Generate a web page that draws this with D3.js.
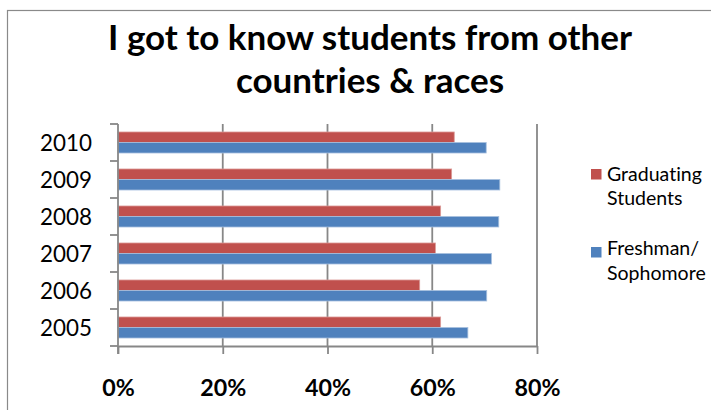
<!DOCTYPE html>
<html>
<head>
<meta charset="utf-8">
<script src="https://cdn.jsdelivr.net/npm/d3@7"></script>
<style>
  html, body { margin: 0; padding: 0; background: #fff; }
  svg { display: block; }
  text { font-family: Lato, "Open Sans", sans-serif; fill: #000; font-variant-ligatures: none; font-feature-settings: "liga" 0; }
</style>
</head>
<body>
<svg id="chart" width="711" height="410"></svg>
<script>
// Survey results: share of students who got to know students from other countries & races
const years = ["2010", "2009", "2008", "2007", "2006", "2005"];
const graduating = [0.642, 0.637, 0.616, 0.606, 0.576, 0.616];
const freshman = [0.703, 0.729, 0.727, 0.713, 0.704, 0.668];
const seriesNames = ["Graduating Students", "Freshman/ Sophomore"];
const seriesColors = ["#C0504D", "#4F81BD"];
const seriesEdges = ["#DA9A98", "#A7C0DE"];
const xTicks = [0, 0.2, 0.4, 0.6, 0.8];
const titleLines = ["I got to know students from other", "countries & races"];

const svg = d3.select("#chart");
const W = 711, H = 410;

// fit a text element's font size so its rendered width matches a target width
function fitWidth(sel, target, base) {
  sel.style("font-size", base + "px");
  const w = sel.node().getComputedTextLength();
  sel.style("font-size", (base * target / w) + "px");
}

// chart frame
svg.append("rect")
  .attr("x", 7.5).attr("y", 10.5)
  .attr("width", W + 20).attr("height", H + 20)
  .attr("fill", "#fff").attr("stroke", "#8a8a8a").attr("stroke-width", 1.2);

const plot = { left: 118, right: 537, top: 124, bottom: 346 };

const x = d3.scaleLinear().domain([0, 0.8]).range([plot.left, plot.right]);
const y = d3.scaleBand().domain(years).range([plot.top, plot.bottom])
  .paddingInner(0.432).paddingOuter(0.216);
const ySub = d3.scaleBand().domain([0, 1]).range([0, y.bandwidth()]);

const axisColor = "#878787";

// vertical gridlines
svg.append("g")
  .selectAll("line")
  .data(xTicks.filter(d => d > 0))
  .join("line")
  .attr("x1", d => x(d)).attr("x2", d => x(d))
  .attr("y1", plot.top).attr("y2", plot.bottom)
  .attr("stroke", axisColor).attr("stroke-width", 1.8);

// bars
const rows = years.map((yr, i) => ({ yr, vals: [graduating[i], freshman[i]] }));
const groups = svg.append("g").selectAll("g")
  .data(rows).join("g")
  .attr("transform", d => `translate(0,${y(d.yr)})`);
groups.selectAll("rect")
  .data(d => d.vals.map((v, s) => ({ v, s })))
  .join("rect")
  .attr("x", x(0))
  .attr("y", d => ySub(d.s))
  .attr("width", d => x(d.v) - x(0))
  .attr("height", ySub.bandwidth())
  .attr("fill", d => seriesColors[d.s])
  .attr("stroke", d => seriesEdges[d.s])
  .attr("stroke-width", 0.8);

// x axis
const xAxis = svg.append("g")
  .attr("transform", `translate(0,${plot.bottom})`)
  .call(d3.axisBottom(x).tickValues(xTicks).tickFormat(d3.format(".0%"))
    .tickSize(8).tickSizeOuter(0));
xAxis.select(".domain").attr("stroke", axisColor).attr("stroke-width", 1.8);
xAxis.selectAll(".tick line").attr("stroke", axisColor).attr("stroke-width", 1.8);
xAxis.selectAll(".tick text")
  .attr("y", 0).attr("dy", null)
  .attr("transform", "translate(0,50)")
  .style("font-family", "Lato, sans-serif")
  .style("font-weight", "bold")
  .attr("fill", "#000");
const xLabelSize = (() => {
  const t = xAxis.selectAll(".tick text").filter(d => d === 0.8);
  fitWidth(t, 46, 26);
  return parseFloat(t.style("font-size"));
})();
xAxis.selectAll(".tick text").style("font-size", xLabelSize + "px");

// y axis: category boundaries as ticks
const step = y.step();
const gap = (step - y.bandwidth()) / 2;
const bounds = years.map(yr => y(yr) - gap).concat([plot.bottom]);
const yAxis = svg.append("g");
yAxis.append("line")
  .attr("x1", plot.left).attr("x2", plot.left)
  .attr("y1", plot.top).attr("y2", plot.bottom + 8)
  .attr("stroke", axisColor).attr("stroke-width", 1.8);
yAxis.selectAll("line.tick")
  .data(bounds).join("line").attr("class", "tick")
  .attr("x1", plot.left - 8).attr("x2", plot.left)
  .attr("y1", d => d).attr("y2", d => d)
  .attr("stroke", axisColor).attr("stroke-width", 1.8);
const yLabels = yAxis.selectAll("text")
  .data(years).join("text")
  .attr("x", 92)
  .attr("y", d => y(d) + y.bandwidth() / 2)
  .attr("dy", "0.36em")
  .attr("text-anchor", "end")
  .text(d => d);
fitWidth(yLabels.filter((d, i) => i === 0), 52, 25);
yLabels.style("font-size", yLabels.filter((d, i) => i === 0).style("font-size"));

// title
const title = svg.append("g");
const t1 = title.append("text")
  .attr("x", 370).attr("y", 50)
  .attr("text-anchor", "middle")
  .style("font-weight", "bold")
  .text(titleLines[0]);
fitWidth(t1, 524, 34);
title.append("text")
  .attr("x", 370).attr("y", 93)
  .attr("text-anchor", "middle")
  .style("font-weight", "bold")
  .style("font-size", t1.style("font-size"))
  .text(titleLines[1]);

// legend
const legend = svg.append("g");
const legendItems = [
  { lines: ["Graduating", "Students"], sq: 169, base: [181, 204.5] },
  { lines: ["Freshman/", "Sophomore"], sq: 247, base: [254.5, 279.5] }
];
legendItems.forEach((item, i) => {
  legend.append("rect")
    .attr("x", 591).attr("y", item.sq)
    .attr("width", 10.5).attr("height", 10.5)
    .attr("fill", seriesColors[i]);
  item.lines.forEach((ln, j) => {
    legend.append("text")
      .attr("class", "leg")
      .attr("x", 607).attr("y", item.base[j])
      .text(ln);
  });
});
const legFirst = legend.select("text.leg");
fitWidth(legFirst, 95, 19);
legend.selectAll("text.leg").style("font-size", legFirst.style("font-size"));
</script>
</body>
</html>
